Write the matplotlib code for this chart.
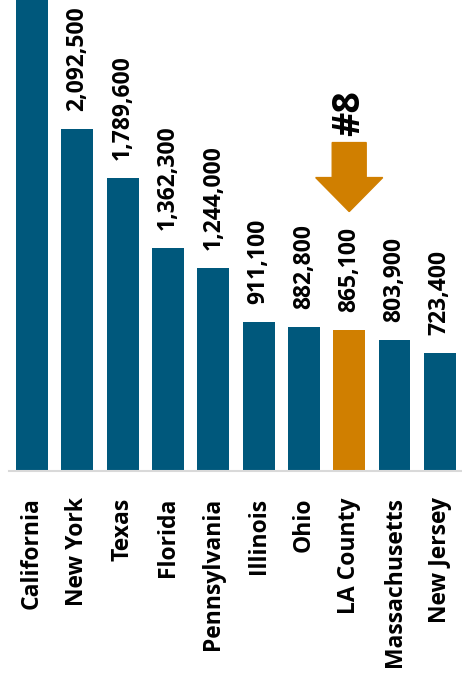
import matplotlib
matplotlib.use("Agg")
import matplotlib.pyplot as plt
from matplotlib.patches import FancyArrow

# Data
regions = ["California", "New York", "Texas", "Florida", "Pennsylvania",
           "Illinois", "Ohio", "LA County", "Massachusetts", "New Jersey"]
values = [3400000, 2092500, 1789600, 1362300, 1244000,
          911100, 882800, 865100, 803900, 723400]
highlight = "LA County"
rank_label = "#8"

BLUE = "#00587C"
ORANGE = "#D07F00"
FONT = "Open Sans"

W, H, DPI = 462, 677, 100
fig = plt.figure(figsize=(W / DPI, H / DPI), dpi=DPI)
ax = fig.add_axes([9 / W, (H - 471) / H, 1 - 9 / W, 471 / H])

colors = [ORANGE if r == highlight else BLUE for r in regions]
x = list(range(len(regions)))
ax.bar(x, values, width=0.706, color=colors, zorder=2)

ymax = 2881000
ax.set_xlim(-0.51, 9.49)
ax.set_ylim(0, ymax)

# value labels above bars
for xi, v in zip(x, values):
    if v < ymax * 0.95:
        ax.annotate(f"{v:,}", xy=(xi, v), xytext=(0, 13), textcoords="offset points",
                    rotation=90, ha="center", va="bottom", fontsize=16.5,
                    fontweight="bold", family=FONT, color="black")

# arrow pointing at the highlighted bar
hi = regions.index(highlight)
hv = values[hi]
px_per_unit = (471 / ymax)
gap_px, head_px, total_px = 118, 34, 69
tip = hv + gap_px / px_per_unit
arrow = FancyArrow(hi, tip + total_px / px_per_unit, 0, -total_px / px_per_unit,
                   width=0.75, head_width=1.48, head_length=head_px / px_per_unit,
                   length_includes_head=True, color=ORANGE, zorder=3)
ax.add_patch(arrow)
ax.annotate(rank_label, xy=(hi, tip + total_px / px_per_unit), xytext=(0, 5),
            textcoords="offset points", rotation=90, ha="center", va="bottom",
            fontsize=27, fontweight="bold", family=FONT, color="black")

# axes styling
for s in ["top", "right", "left"]:
    ax.spines[s].set_visible(False)
ax.spines["bottom"].set_color("#D9D9D9")
ax.spines["bottom"].set_linewidth(1.5)
ax.set_yticks([])
ax.set_xticks(x)
ax.set_xticklabels(regions, rotation=90, fontsize=16.5, fontweight="bold",
                   family=FONT, color="black")
ax.tick_params(axis="x", length=0, pad=19)

fig.savefig("out.png", dpi=DPI)
